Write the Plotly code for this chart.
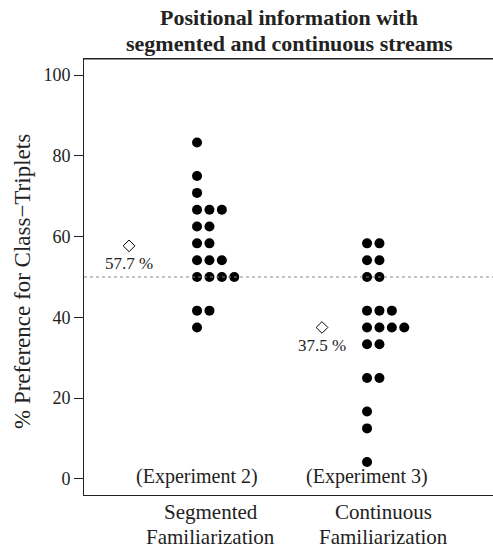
import plotly.graph_objects as go
from collections import Counter

# Data (percent preference for class-triplets, per participant)
segmented = [83.33, 75.0, 70.83, 66.67, 66.67, 66.67, 62.5, 62.5, 58.33, 58.33,
             54.17, 54.17, 54.17, 50.0, 50.0, 50.0, 50.0, 41.67, 41.67, 37.5]
continuous = [58.33, 58.33, 54.17, 54.17, 50.0, 50.0, 41.67, 41.67, 41.67,
              37.5, 37.5, 37.5, 37.5, 33.33, 33.33, 25.0, 25.0, 16.67, 12.5, 4.17]
group_names = [["Segmented", "Familiarization"], ["Continuous", "Familiarization"]]
experiment_labels = ["(Experiment 2)", "(Experiment 3)"]
title_lines = ["Positional information with", "segmented and continuous streams"]
y_title = "% Preference for Class\u2212Triplets"
y_ticks = [0, 20, 40, 60, 80, 100]
chance_level = 50

FONT = "Liberation Serif"
TXT = "#222222"
group_pos = [1.0, 2.0]
mean_pos = [0.6, 1.735]
label_pos = [1.082, 2.094]
stack_step = 0.073
PL, PT, PW, PH = 84, 59, 409, 436  # plot area in px

fig = go.Figure()

for vals, gx, mx in zip([segmented, continuous], group_pos, mean_pos):
    seen = Counter()
    xs, ys = [], []
    for v in vals:
        key = round(v, 2)
        xs.append(gx + seen[key] * stack_step)
        ys.append(v)
        seen[key] += 1
    fig.add_trace(go.Scatter(x=xs, y=ys, mode="markers",
                             marker=dict(size=10, color="black"),
                             showlegend=False, hoverinfo="y"))
    m = sum(vals) / len(vals)
    fig.add_trace(go.Scatter(x=[mx], y=[m], mode="markers",
                             marker=dict(symbol="diamond-open", size=9, color="black",
                                         line=dict(width=1, color="black")),
                             showlegend=False))
    fig.add_annotation(x=mx, y=m, text=f"{m:.1f} %", showarrow=False,
                       xanchor="center", yanchor="middle",
                       yshift=-18, font=dict(family=FONT, size=17, color=TXT))

for lbl, gx in zip(experiment_labels, group_pos):
    fig.add_annotation(x=gx, y=0, text=lbl, showarrow=False, yshift=2,
                       xanchor="center", yanchor="middle",
                       font=dict(family=FONT, size=20, color=TXT))

for lines, lx in zip(group_names, label_pos):
    for i, line in enumerate(lines):
        fig.add_annotation(x=lx, xref="x", y=0, yref="paper",
                           xanchor="center", yanchor="middle",
                           yshift=-17 - 25 * i, text=line, showarrow=False,
                           font=dict(family=FONT, size=21, color=TXT))

for i, line in enumerate(title_lines):
    fig.add_annotation(x=(289 - PL) / PW, xref="paper", y=1, yref="paper",
                       xanchor="center", yanchor="middle",
                       yshift=PT - 17 - 26 * i, text=f"<b>{line}</b>", showarrow=False,
                       font=dict(family=FONT, size=22, color=TXT))

fig.add_shape(type="line", xref="paper", x0=0, x1=1, y0=chance_level, y1=chance_level,
              line=dict(color="#888888", width=1, dash="dot"))
fig.add_shape(type="line", xref="paper", yref="paper", x0=0, x1=1, y0=1, y1=1,
              line=dict(color=TXT, width=1))

fig.add_annotation(x=(22 - PL) / PW, xref="paper", y=(PT + PH - 282) / PH, yref="paper",
                   xanchor="center", yanchor="middle",
                   text=y_title, textangle=-90, showarrow=False,
                   font=dict(family=FONT, size=23, color=TXT))

fig.update_layout(
    width=493, height=549,
    margin=dict(l=PL, r=493 - PL - PW, t=PT, b=549 - PT - PH),
    plot_bgcolor="white", paper_bgcolor="white",
    xaxis=dict(range=[0.335, 2.741], showline=True, mirror=True, linecolor=TXT,
               linewidth=1, showgrid=False, zeroline=False, showticklabels=False,
               ticks=""),
    yaxis=dict(range=[-4, 104], showline=True, linecolor=TXT, linewidth=1,
               showgrid=False, zeroline=False, tickvals=y_ticks, ticks="outside",
               ticklen=9, tickcolor=TXT,
               tickfont=dict(family=FONT, size=18, color=TXT)),
    font=dict(family=FONT),
)

fig.write_html("out.html", config={"displayModeBar": False},
               post_script="document.body.style.margin='0';document.body.style.overflow='hidden';")
